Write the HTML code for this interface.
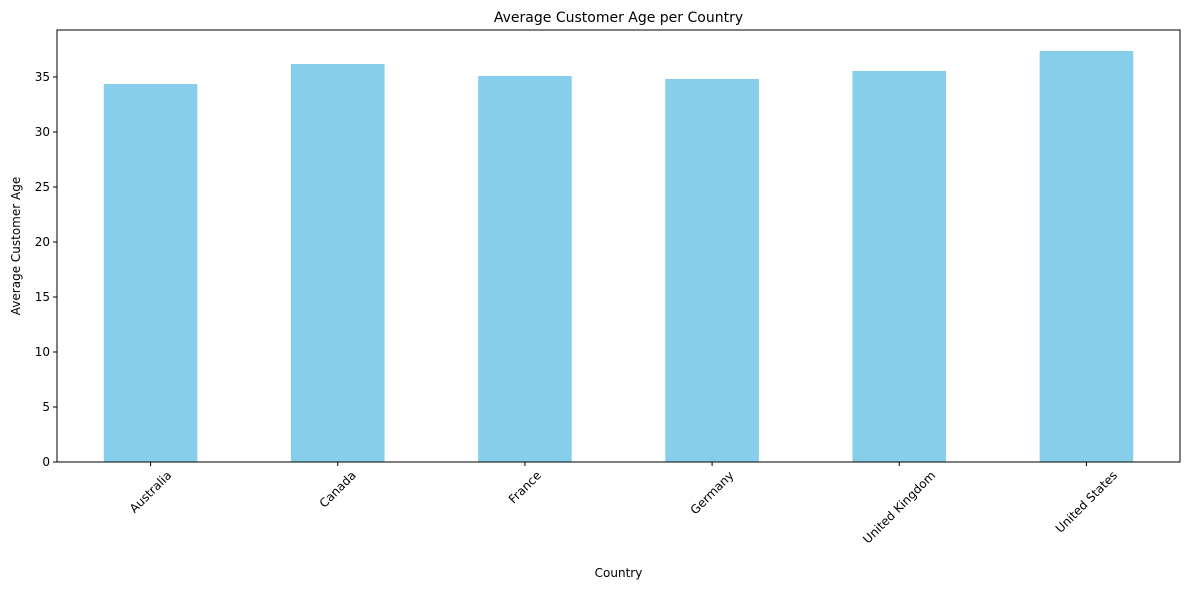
<!DOCTYPE html>
<html><head><meta charset="utf-8"><style>
body{margin:0;background:#fff;font-family:"Liberation Sans","DejaVu Sans",sans-serif;}
svg text{font-family:"DejaVu Sans","Liberation Sans",sans-serif;}
</style></head><body>
<svg id="chart" width="1189" height="590" xmlns="http://www.w3.org/2000/svg"></svg>
<script>
const categories=["Australia","Canada","France","Germany","United Kingdom","United States"];
const values=[34.36,36.18,35.09,34.82,35.55,37.36];
const yTicks=[0,5,10,15,20,25,30,35];
const NS="http://www.w3.org/2000/svg";
const svg=document.getElementById('chart');
const L=57,R=1180,T=30,B=462,yMax=39.27;
const xs=i=>L+(i+0.5)*(R-L)/categories.length;
const ys=v=>B-v/yMax*(B-T);
function mk(tag,attrs,parent){const e=document.createElementNS(NS,tag);for(const k in attrs)e.setAttribute(k,attrs[k]);(parent||svg).appendChild(e);return e;}
const bw=0.5*(R-L)/categories.length;
categories.forEach((c,i)=>{
 const r=mk('rect',{x:xs(i)-bw/2,y:ys(values[i]),width:bw,height:B-ys(values[i]),fill:'#87ceeb'});
 
 
 mk('line',{x1:xs(i),x2:xs(i),y1:B,y2:B+4,stroke:'#000','stroke-width':1});
 const t=mk('text',{x:xs(i),y:B,'font-size':12,'text-anchor':'middle','dominant-baseline':'central'});
 t.textContent=c;
 const len=t.getComputedTextLength();
 const yc=B+7+(len+12)*0.7071/2;
 t.setAttribute('y',yc);
 t.setAttribute('transform',`rotate(-45 ${xs(i)} ${yc})`);
 
 
});
yTicks.forEach(v=>{
 mk('line',{x1:L-4,x2:L,y1:ys(v),y2:ys(v),stroke:'#000','stroke-width':1});
 const t=mk('text',{x:L-7,y:ys(v)+4,'font-size':12,'text-anchor':'end'});
 t.textContent=v;
 
 
});
const fr=mk('rect',{x:L,y:T,width:R-L,height:B-T,fill:'none',stroke:'#000','stroke-width':1});


const ti=mk('text',{x:(L+R)/2,y:22,'font-size':14,'text-anchor':'middle'});ti.textContent='Average Customer Age per Country';


const xl=mk('text',{x:(L+R)/2,y:577,'font-size':12,'text-anchor':'middle'});xl.textContent='Country';


const yl=mk('text',{x:20,y:(T+B)/2,'font-size':12,'text-anchor':'middle',transform:`rotate(-90 20 ${(T+B)/2})`});yl.textContent='Average Customer Age';


</script>
</body></html>
